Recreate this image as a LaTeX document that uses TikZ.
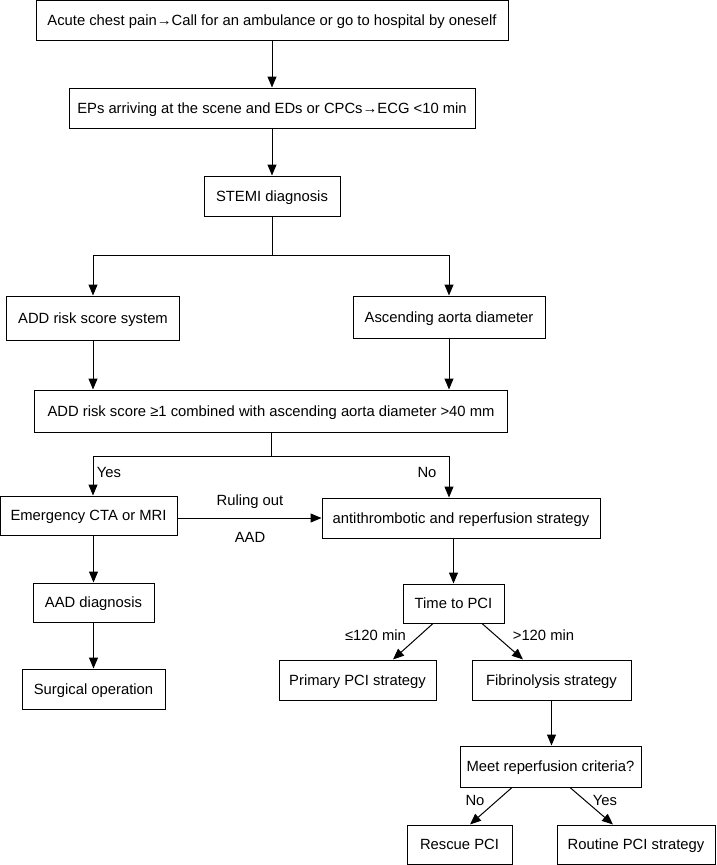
\documentclass[tikz,border=0pt]{standalone}
\usepackage{fontspec}
\setmainfont{Liberation Sans}
\usetikzlibrary{arrows.meta}
\begin{document}
\begin{tikzpicture}[x=1pt,y=-1pt,
  box/.style={draw=black, line width=1pt, minimum height=40pt, inner sep=0pt, text height=11.5pt, text depth=0.9pt, font=\fontsize{14.8}{17}\selectfont},
  lbl/.style={font=\fontsize{14.8}{17}\selectfont, inner sep=0pt},
  arr/.style={line width=1pt, -{Triangle[length=11pt,width=9pt]}},
  ln/.style={line width=1pt}]
\useasboundingbox (0,0) rectangle (717,865);
% boxes
\node[box, minimum width=472pt] (b1) at (272,20.5) {Acute chest pain→Call for an ambulance or go to hospital by oneself};
\node[box, minimum width=406pt] (b2) at (272,108) {EPs arriving at the scene and EDs or CPCs→ECG <10 min};
\node[box, minimum width=136pt] (b3) at (272,196) {STEMI diagnosis};
\node[box, minimum width=173pt, minimum height=44pt] (add) at (93,318) {ADD risk score system};
\node[box, minimum width=192pt, minimum height=42pt] (asc) at (449,317) {Ascending aorta diameter};
\node[box, minimum width=473pt, minimum height=42pt] (comb) at (271,411) {ADD risk score ≥1 combined with ascending aorta diameter >40 mm};
\node[box, minimum width=177pt, minimum height=39pt] (emg) at (88.5,515.5) {Emergency CTA or MRI};
\node[box, minimum width=278pt] (anti) at (461,518) {antithrombotic and reperfusion strategy};
\node[box, minimum width=121pt, minimum height=39pt] (aad) at (93.5,602.5) {AAD diagnosis};
\node[box, minimum width=143pt] (surg) at (93.5,689) {Surgical operation};
\node[box, minimum width=101pt, minimum height=39pt] (time) at (453.5,603.5) {Time to PCI};
\node[box, minimum width=157pt] (prim) at (357.5,680) {Primary PCI strategy};
\node[box, minimum width=159pt] (fib) at (551.5,680) {Fibrinolysis strategy};
\node[box, minimum width=181pt, minimum height=41pt] (meet) at (550.5,766.5) {Meet reperfusion criteria?};
\node[box, minimum width=105pt, minimum height=39pt] (resc) at (459.5,844.5) {Rescue PCI};
\node[box, minimum width=158pt, minimum height=39pt] (rout) at (636,844.5) {Routine PCI strategy};
% split points
\coordinate (s1) at (272,255);
\coordinate (s2) at (271,456);
% connectors
\draw[arr] (b1.south) -- (b2.north);
\draw[arr] (b2.south) -- (b3.north);
\draw[ln] (b3.south) -- (s1);
\draw[arr] (s1) -| (add.north);
\draw[arr] (s1) -| (asc.north);
\draw[arr] (add.south) -- (add.south |- comb.north);
\draw[arr] (asc.south) -- (asc.south |- comb.north);
\draw[ln] (comb.south -| s2) -- (s2);
\draw[arr] (s2) -| (emg.north -| 93,0);
\draw[arr] (s2) -| (anti.north -| 449,0);
\draw[arr] (emg.east |- anti.west) -- (anti.west);
\draw[arr] (aad.north |- emg.south) -- (aad.north);
\draw[arr] (aad.south) -- (surg.north);
\draw[arr] (anti.south -| time.north) -- (time.north);
\draw[arr] ([xshift=-20.5pt]time.south) -- ([xshift=35.5pt]prim.north);
\draw[arr] ([xshift=28.5pt]time.south) -- ([xshift=-28.5pt]fib.north);
\draw[arr] (fib.south) -- (fib.south |- meet.north);
\draw[arr] ([xshift=-38.5pt]meet.south) -- ([xshift=10.5pt]resc.north);
\draw[arr] ([xshift=19.5pt]meet.south) -- ([xshift=-23pt]rout.north);
% labels
\node[lbl] (lyes1) at (109,472) {Yes};
\node[lbl] (lno1) at (427,472) {No};
\node[lbl] (lrule) at (250,502) {Ruling out};
\node[lbl] (laad) at (250,537) {AAD};
\node[lbl] (lle) at (375.5,635) {≤120 min};
\node[lbl] (lgt) at (543.5,635) {>120 min};
\node[lbl] (lno2) at (475,800) {No};
\node[lbl] (lyes2) at (605,800) {Yes};
\end{tikzpicture}
\end{document}
